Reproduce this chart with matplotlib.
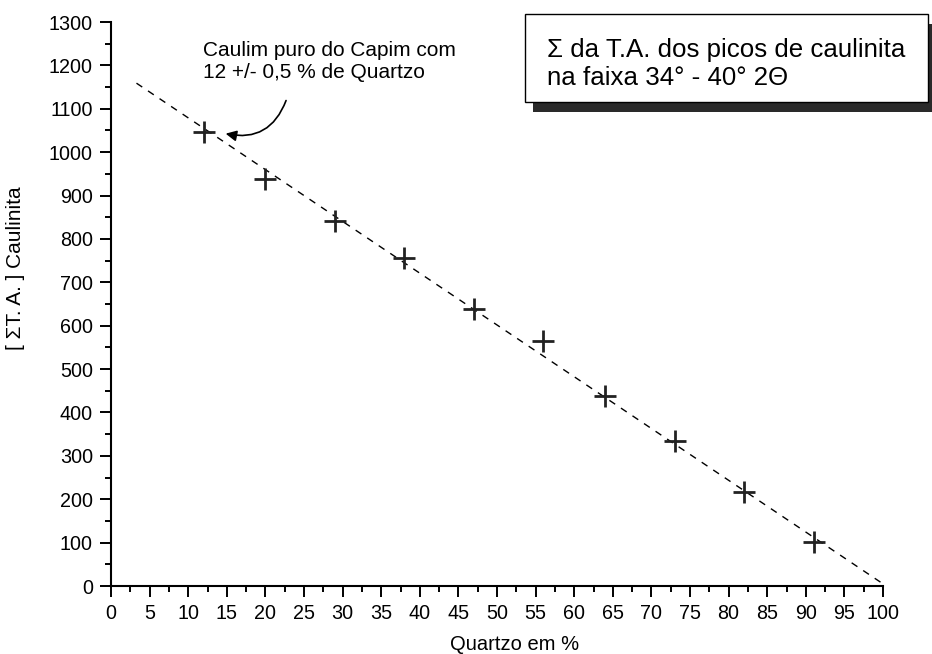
import matplotlib
matplotlib.use("Agg")
import matplotlib.pyplot as plt
from matplotlib.patches import Rectangle
from matplotlib.ticker import MultipleLocator

plt.rcParams['font.family'] = ['Liberation Sans', 'DejaVu Sans']

# Measured samples: quartz content (%) vs summed integrated intensity
quartzo = [12, 20, 29, 38, 47, 56, 64, 73, 82, 91]
soma_ta = [1046, 938, 842, 757, 638, 565, 437, 335, 217, 102]

# Calibration line end points
reta_x = [3.3, 100]
reta_y = [1159, 5]

fig = plt.figure(figsize=(9.32, 6.54), dpi=100)
ax = fig.add_axes([111 / 932, 1 - 586 / 654, (883 - 111) / 932, (586 - 22) / 654])

ax.plot(reta_x, reta_y, color='black', lw=1.0, linestyle=(0, (5, 5)))
ax.plot(quartzo, soma_ta, linestyle='none', marker='+', markersize=16,
        markeredgewidth=2.0, color='#222222')

ax.set_xlim(0, 100)
ax.set_ylim(0, 1300)
ax.xaxis.set_major_locator(MultipleLocator(5))
ax.xaxis.set_minor_locator(MultipleLocator(2.5))
ax.yaxis.set_major_locator(MultipleLocator(100))
ax.yaxis.set_minor_locator(MultipleLocator(50))

for s in ('top', 'right'):
    ax.spines[s].set_visible(False)
for s in ('left', 'bottom'):
    ax.spines[s].set_linewidth(1.5)

ax.tick_params(which='major', direction='out', length=8, width=1.4,
               labelsize=14.2, pad=5)
ax.tick_params(which='minor', direction='out', length=4, width=1.4)

ax.set_xlabel('Quartzo em %', fontsize=14.5)
ax.xaxis.set_label_coords((515 - 111) / 772, -(645 - 586) / 564)
ax.xaxis.label.set_va('center')
ax.set_ylabel('[ \u03a3T. A. ] Caulinita', fontsize=15)
ax.yaxis.set_label_coords(-(111 - 16) / 772, (586 - 268) / 564)
ax.yaxis.label.set_va('center')

# Annotation for the pure kaolin sample
ax.text(11.9, (586 - 41) / 0.4338, 'Caulim puro do Capim com\n12 +/- 0,5 % de Quartzo',
        fontsize=15, va='top', ha='left', linespacing=1.2)
ax.annotate('', xy=(14.5, 1044), xytext=(22.8, 1125),
            arrowprops=dict(arrowstyle='-|>', color='black', lw=1.2,
                            mutation_scale=16,
                            connectionstyle='arc3,rad=-0.45'))

# Caption box with drop shadow
W, H = 932, 654
def fr(x0, y0, x1, y1):
    return (x0 / W, 1 - y1 / H), (x1 - x0) / W, (y1 - y0) / H

xy, w, h = fr(533, 24, 940, 112)
fig.patches.append(Rectangle(xy, w, h, transform=fig.transFigure,
                             facecolor='#2a2a2a', edgecolor='none', zorder=5))
xy, w, h = fr(525, 14, 928, 102)
fig.patches.append(Rectangle(xy, w, h, transform=fig.transFigure,
                             facecolor='white', edgecolor='black', lw=1.0,
                             zorder=6))
fig.text(547 / W, 1 - 38 / H,
         '\u03a3 da T.A. dos picos de caulinita\nna faixa 34\u00b0 - 40\u00b0 2\u0398',
         fontsize=18.6, va='top', ha='left', linespacing=1.2, zorder=7)

fig.savefig('out.png', dpi=100)
